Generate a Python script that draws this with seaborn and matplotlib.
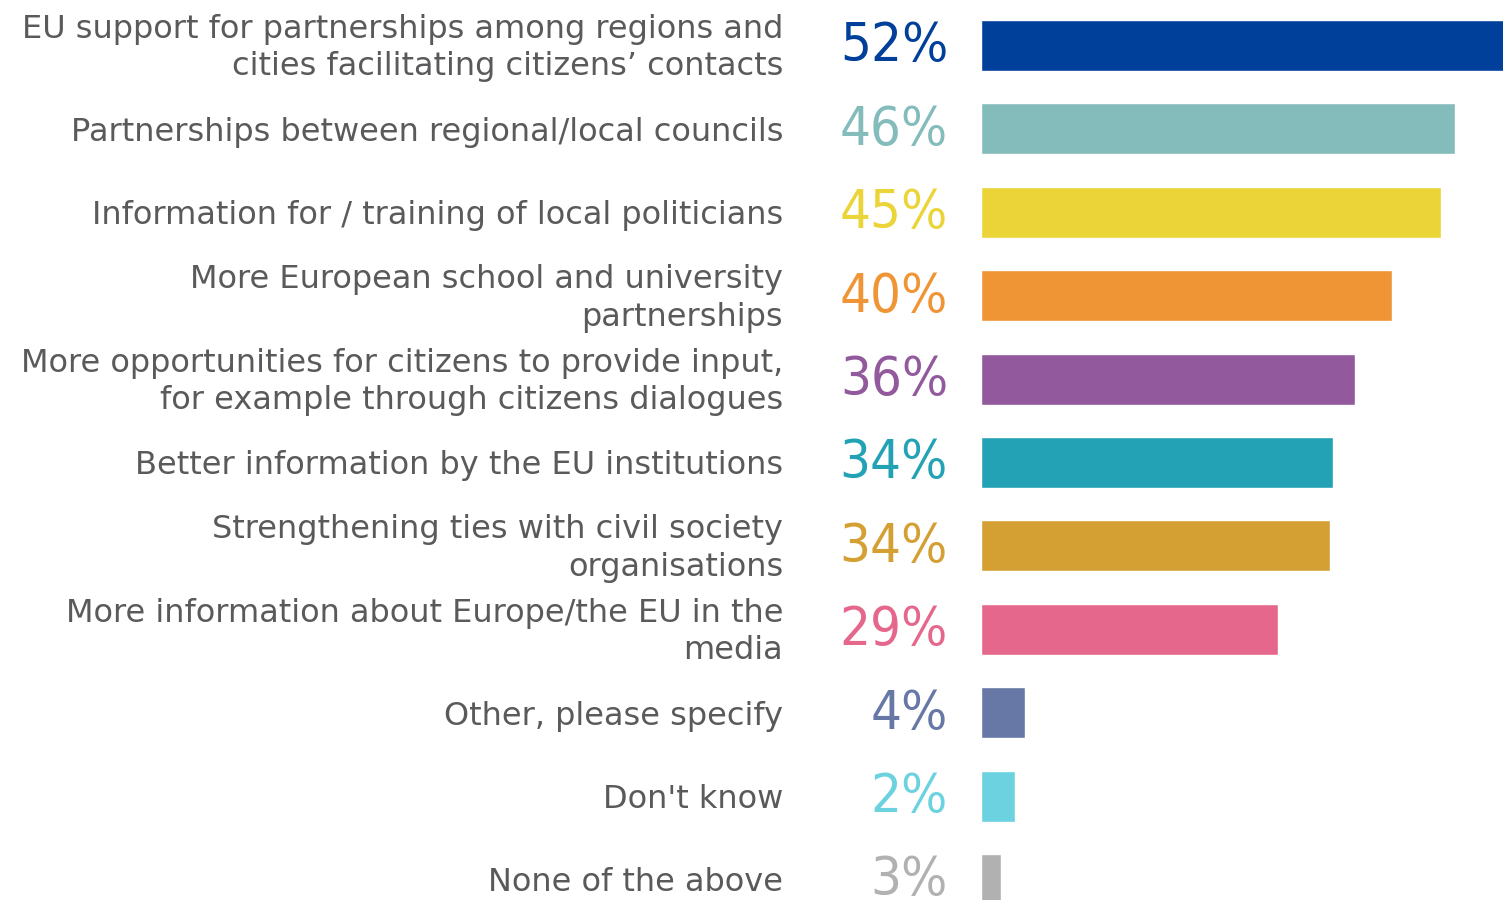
import matplotlib
matplotlib.use("Agg")
import matplotlib.pyplot as plt
import seaborn as sns
import pandas as pd

categories = [
    "EU support for partnerships among regions and\ncities facilitating citizens\u2019 contacts",
    "Partnerships between regional/local councils",
    "Information for / training of local politicians",
    "More European school and university\npartnerships",
    "More opportunities for citizens to provide input,\nfor example through citizens dialogues",
    "Better information by the EU institutions",
    "Strengthening ties with civil society\norganisations",
    "More information about Europe/the EU in the\nmedia",
    "Other, please specify",
    "Don't know",
    "None of the above",
]
values = [52.0, 46.0, 44.7, 39.9, 36.3, 34.2, 33.9, 28.8, 4.3, 3.3, 1.9]
value_labels = ["52%", "46%", "45%", "40%", "36%", "34%", "34%", "29%", "4%", "2%", "3%"]
colors = ["#00409A", "#84BBBB", "#EBD437", "#F09536", "#92599D", "#23A2B5",
          "#D4A033", "#E5688C", "#6878A6", "#6CD2E0", "#B1B1B1"]

sns.set_theme(style="white")
plt.rcParams["font.family"] = ["DejaVu Sans"]

df = pd.DataFrame({"cat": categories, "val": values})

fig = plt.figure(figsize=(15.03, 9.0), dpi=100)
ax = fig.add_axes([981 / 1503, 0, 522 / 1503, 1])
sns.barplot(data=df, y="cat", x="val", hue="cat", palette=colors, orient="h",
            width=0.612, legend=False, ax=ax, saturation=1)

px_per_unit = 10.3
ax.set_xlim(0, 522 / px_per_unit)
ax.set_ylim((900 - 45.5) / 83.4, -45.5 / 83.4)
for s in ax.spines.values():
    s.set_visible(False)
ax.set_xticks([])
ax.set_yticks([])
ax.set_xlabel("")
ax.set_ylabel("")

for i, cat in enumerate(categories):
    dy = 4 if "\n" in cat else 0
    ax.annotate(cat, xy=(0, i), xytext=(-198, dy), textcoords="offset pixels",
                ha="right", va="center_baseline", fontsize=23, color="#5A5A5C",
                linespacing=1.27, annotation_clip=False)

for i, (lbl, c) in enumerate(zip(value_labels, colors)):
    ax.annotate(lbl, xy=(0, i), xytext=(-33, -16), textcoords="offset pixels",
                ha="right", va="baseline", fontsize=39, color=c,
                fontstretch="condensed", annotation_clip=False)

fig.savefig("out.png", dpi=100)
